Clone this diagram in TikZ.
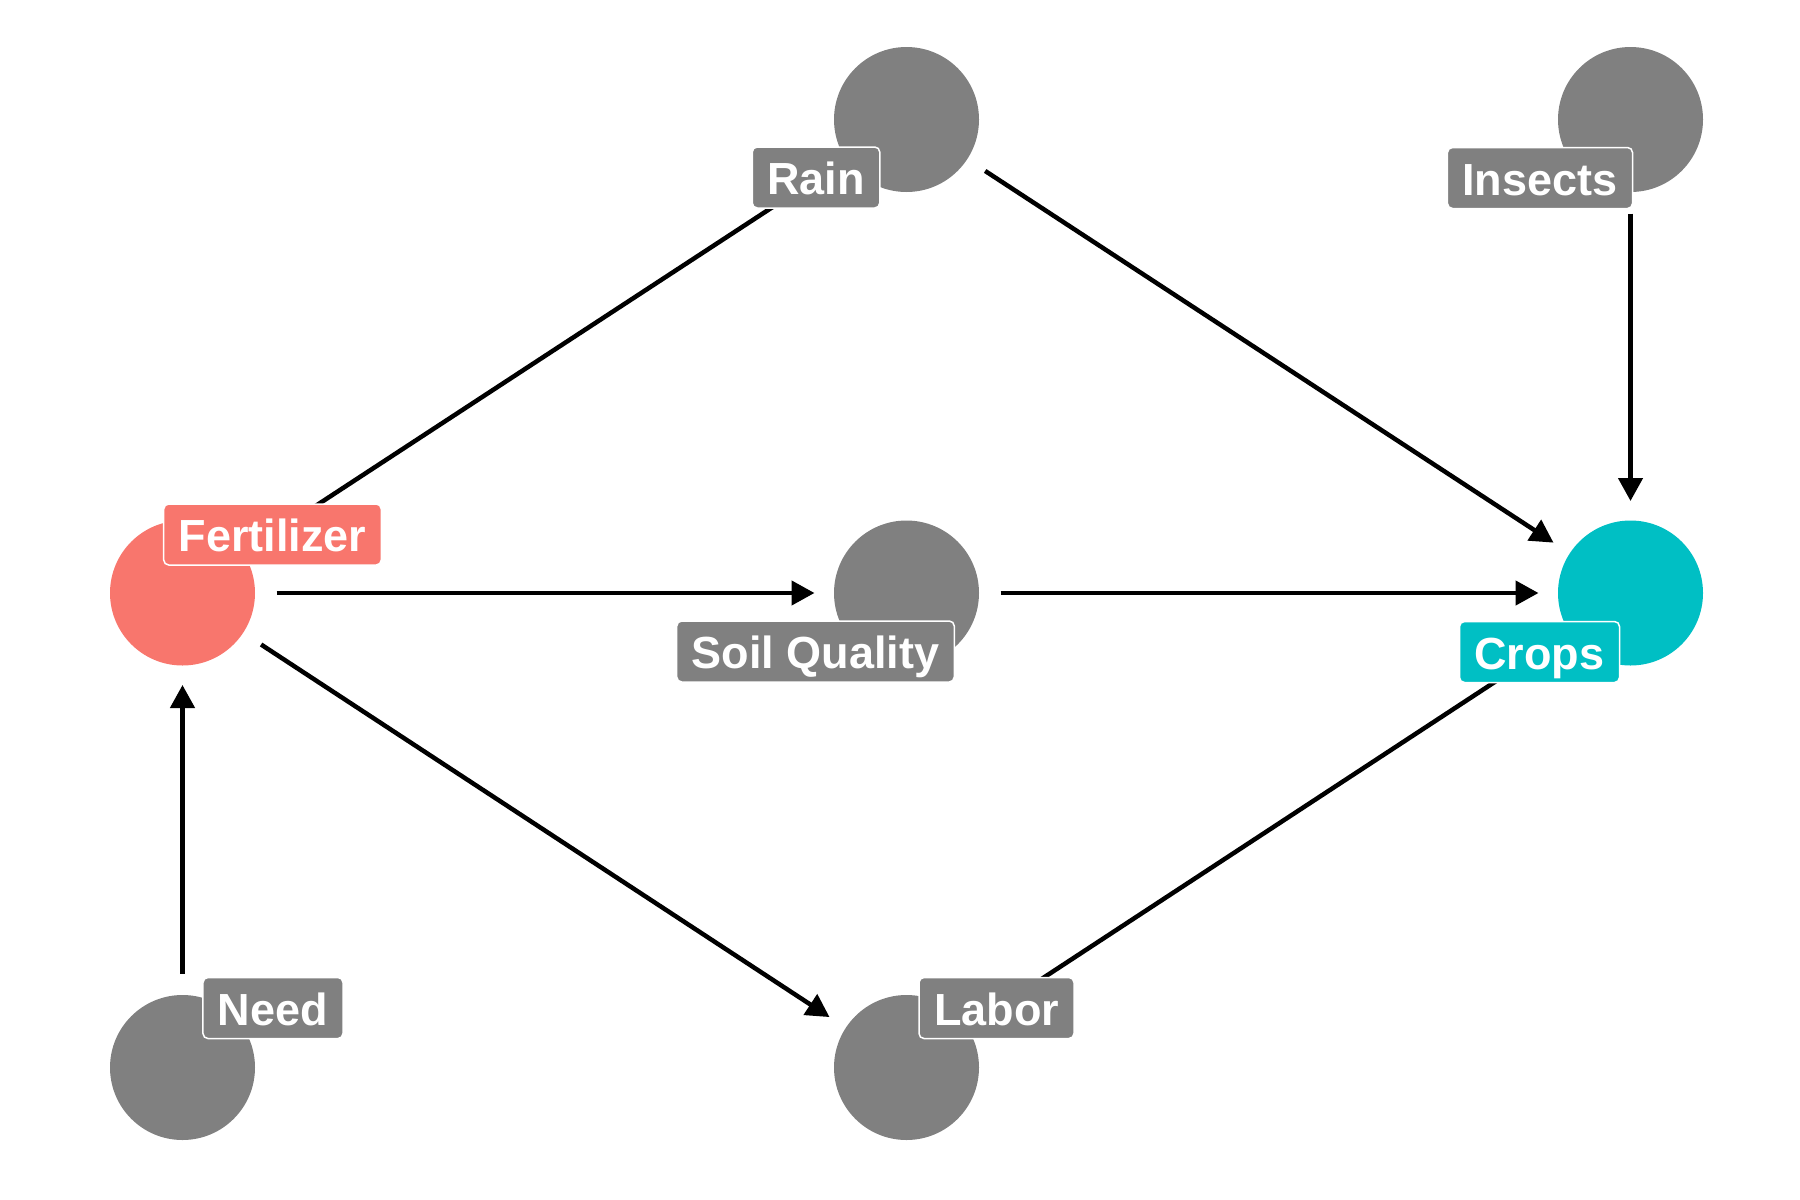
\documentclass[tikz,border=0pt]{standalone}
\usepackage{fontspec}
\setmainfont{Liberation Sans}
\usetikzlibrary{arrows.meta,backgrounds}
\definecolor{salmon}{HTML}{F8766D}
\definecolor{teal}{HTML}{00BFC4}
\definecolor{grey}{HTML}{808080}
\begin{document}
\begin{tikzpicture}[x=1pt,y=-1pt,
  dot/.style={circle,fill=#1,draw=none,minimum size=145pt,inner sep=0pt,outer sep=0pt},
  lab/.style={fill=#1,draw=white,line width=1.5pt,rounded corners=5pt,text=white,
    font=\fontsize{45}{54}\selectfont\bfseries,inner xsep=15pt,inner ysep=0.5pt,
    text height=47pt,text depth=13pt},
  edge/.style={line width=4.5pt,-{Triangle[length=23pt,width=24pt]},shorten <=21.5pt,shorten >=19.5pt}]
\useasboundingbox (0,0) rectangle (1800,1200);
% nodes
\node[dot=salmon] (fert) at (182.5,593) {};
\node[dot=grey] (rain) at (906.5,119.5) {};
\node[dot=grey] (insects) at (1630.5,119.5) {};
\node[dot=grey] (soil) at (906.5,593) {};
\node[dot=teal] (crops) at (1630.5,593) {};
\node[dot=grey] (need) at (182.5,1067.5) {};
\node[dot=grey] (labor) at (906.5,1067.5) {};
% edges
\begin{scope}[on background layer]
\draw[edge] (rain) -- (fert);
\draw[edge] (fert) -- (soil);
\draw[edge] (fert) -- (labor);
\draw[edge] (need) -- (fert);
\draw[edge] (rain) -- (crops);
\draw[edge] (soil) -- (crops);
\draw[edge] (insects) -- (crops);
\draw[edge] (labor) -- (crops);
\end{scope}
% labels
\node[lab=salmon] (fertl) at ([shift={(90,-58.5)}]fert.center) {Fertilizer};
\node[lab=grey] (rainl) at ([shift={(-90.5,58)}]rain.center) {Rain};
\node[lab=grey] (insectsl) at ([shift={(-90.5,58.5)}]insects.center) {Insects};
\node[lab=grey] (soill) at ([shift={(-91,58.5)}]soil.center) {Soil Quality};
\node[lab=teal] (cropsl) at ([shift={(-91,59)}]crops.center) {Crops};
\node[lab=grey] (needl) at ([shift={(90.5,-59.5)}]need.center) {Need};
\node[lab=grey] (laborl) at ([shift={(90,-59.5)}]labor.center) {Labor};
\end{tikzpicture}
\end{document}
